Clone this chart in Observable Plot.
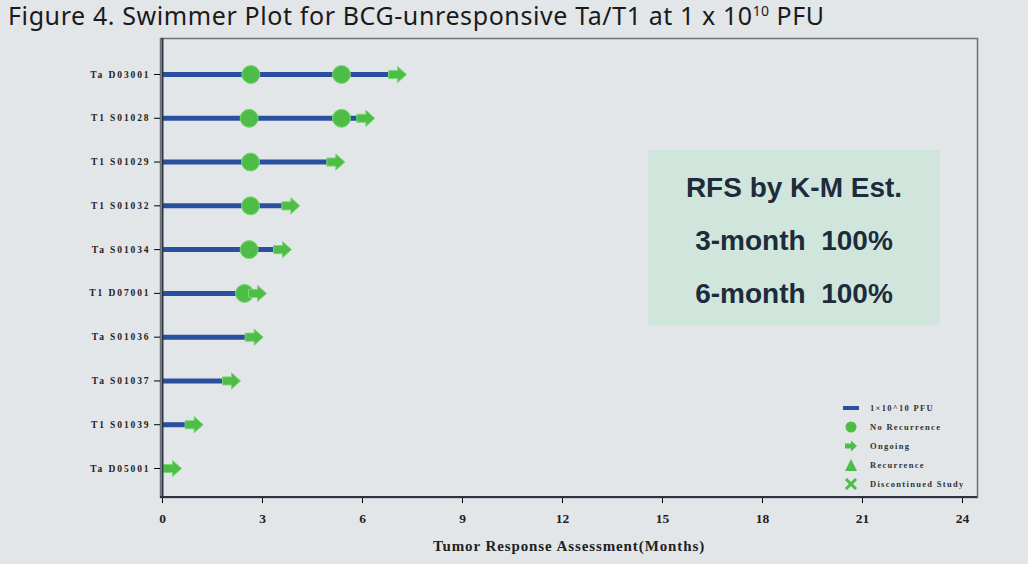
<!DOCTYPE html>
<html>
<head>
<meta charset="utf-8">
<script src="https://cdn.jsdelivr.net/npm/d3@7"></script>
<script src="https://cdn.jsdelivr.net/npm/@observablehq/plot@0.6"></script>
<style>
  html, body { margin: 0; padding: 0; background: #e2e6e8; width: 1028px; height: 564px; overflow: hidden; }
  #wrap { position: relative; width: 1028px; height: 564px; }
  #title { position: absolute; left: 8px; top: -2px; font-family: "Noto Sans", sans-serif; font-size: 25px; color: #1a1a1a; letter-spacing: 0.6px; white-space: nowrap; }
  #title sup { font-size: 14px; letter-spacing: 0.3px; }
  #chart { position: absolute; left: 0; top: 36px; }
  #rfs { position: absolute; left: 648px; top: 150px; width: 292px; height: 175px; background: #d0e6dd; font-family: "Liberation Sans", Arial, sans-serif; font-size: 28px; font-weight: bold; color: #1d2b3a; text-align: center; }
  #rfs div { position: absolute; left: 0; width: 100%; line-height: 30px; }
  #legend { position: absolute; left: 841px; top: 398px; font-family: "Liberation Serif", serif; font-size: 8.5px; font-weight: bold; color: #333; letter-spacing: 1.3px; }
  #legend .row { height: 19px; display: flex; align-items: center; }
  #legend svg { width: 20px; height: 14px; margin-right: 9px; }
</style>
</head>
<body>
<div id="wrap">
  <div id="title">Figure 4. Swimmer Plot for BCG-unresponsive Ta/T1 at 1 x 10<sup>10</sup> PFU</div>
  <div id="chart"></div>
  <div id="rfs"></div>
  <div id="legend"></div>
</div>
<script>
// ---- data ----
const patients = ["Ta D03001", "T1 S01028", "T1 S01029", "T1 S01032", "Ta S01034", "T1 D07001", "Ta S01036", "Ta S01037", "T1 S01039", "Ta D05001"];
const durations = [7.05, 6.1, 5.2, 3.85, 3.6, 2.85, 2.75, 2.07, 0.95, 0.3];
const noRecurrencePatients = ["Ta D03001", "Ta D03001", "T1 S01028", "T1 S01028", "T1 S01029", "T1 S01032", "Ta S01034", "T1 D07001"];
const noRecurrenceTimes = [2.65, 5.37, 2.6, 5.37, 2.64, 2.64, 2.6, 2.46];
const xTicks = [0, 3, 6, 9, 12, 15, 18, 21, 24];
const legendLabels = ["1\u00d710^10 PFU", "No Recurrence", "Ongoing", "Recurrence", "Discontinued Study"];
const rfsLines = ["RFS by K-M Est.", "3-month\u00a0\u00a0100%", "6-month\u00a0\u00a0100%"];

const rows = patients.map((id, i) => ({id, dur: durations[i]}));
const noRec = noRecurrencePatients.map((id, i) => ({id, t: noRecurrenceTimes[i]}));

const green = "#4dbd48";
const greenEdge = "#7ad872";
const blue = "#2a4f9e";

const arrowSymbol = {
  draw(ctx, size) {
    const r = Math.sqrt(size / Math.PI);
    const sh = 0.45 * r, hh = 0.9 * r;
    ctx.moveTo(-r, -sh);
    ctx.lineTo(0, -sh);
    ctx.lineTo(0, -hh);
    ctx.lineTo(r, 0);
    ctx.lineTo(0, hh);
    ctx.lineTo(0, sh);
    ctx.lineTo(-r, sh);
    ctx.closePath();
  }
};

const serif = "'Liberation Serif', 'DejaVu Serif', serif";

const chart = Plot.plot({
  width: 1028,
  height: 528,
  marginTop: 2,
  marginBottom: 67,
  marginLeft: 160,
  marginRight: 51,
  style: {background: "transparent"},
  x: {domain: [0, 24.45], insetLeft: 2},
  y: {type: "point", domain: patients, padding: 0, round: false, insetTop: 36, insetBottom: 29},
  marks: [
    Plot.frame({stroke: "#6d7275", strokeWidth: 1.5}),
    Plot.ruleY(rows, {y: "id", x1: () => 0, x2: "dur", stroke: blue, strokeWidth: 5}),
    Plot.dot(noRec, {x: "t", y: "id", r: 9, fill: green, stroke: greenEdge, strokeWidth: 1}),
    Plot.dot(rows, {x: "dur", y: "id", r: 9, symbol: arrowSymbol, fill: green, stroke: greenEdge, strokeWidth: 1}),
    Plot.ruleX([0], {stroke: "#2b3543", strokeWidth: 2}),
    Plot.axisX({ticks: xTicks, tickSize: 6, tickPadding: 10, fontSize: 13.5, fontFamily: serif, fill: "#222",
      label: "Tumor Response Assessment(Months)", labelAnchor: "center", labelArrow: "none", labelOffset: 53, fontWeight: "bold"}),
    Plot.axisY({tickSize: 6, tickPadding: 4, fontSize: 9.5, fontFamily: serif, fontWeight: "bold", fill: "#222", label: null})
  ]
});
chart.querySelectorAll('[aria-label="y-axis tick label"] text').forEach(t => t.setAttribute("letter-spacing", "1.9"));
chart.querySelectorAll('[aria-label="x-axis label"] text').forEach(t => { t.setAttribute("font-size", "15"); t.setAttribute("letter-spacing", "0.9"); });
document.getElementById("chart").appendChild(chart);

// bottom axis line (dark) drawn via the x scale
const sx = chart.scale("x");
const svg = d3.select(chart);
svg.append("line")
  .attr("x1", 160).attr("x2", sx.apply(24.45))
  .attr("y1", 528 - 67).attr("y2", 528 - 67)
  .attr("stroke", "#2b3543").attr("stroke-width", 2);

// RFS box
const rfs = document.getElementById("rfs");
rfsLines.forEach((t, i) => {
  const d = document.createElement("div");
  d.textContent = t;
  d.style.top = (23 + i * 53) + "px";
  rfs.appendChild(d);
});

// legend
const symbols = [
  `<rect x="2" y="5" width="16" height="4" fill="${blue}"/>`,
  `<circle cx="10" cy="7" r="5.5" fill="${green}"/>`,
  `<path d="M4,4.5 L10,4.5 L10,1.5 L16,7 L10,12.5 L10,9.5 L4,9.5 Z" fill="${green}"/>`,
  `<path d="M10,1 L16,13 L4,13 Z" fill="${green}"/>`,
  `<path d="M5,2 L15,12 M15,2 L5,12" stroke="${green}" stroke-width="3"/>`
];
const leg = document.getElementById("legend");
legendLabels.forEach((t, i) => {
  const row = document.createElement("div");
  row.className = "row";
  row.innerHTML = `<svg viewBox="0 0 20 14">${symbols[i]}</svg><span>${t}</span>`;
  leg.appendChild(row);
});
</script>
</body>
</html>
